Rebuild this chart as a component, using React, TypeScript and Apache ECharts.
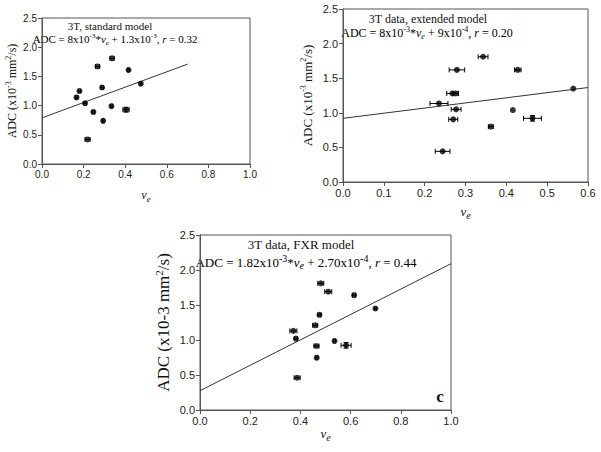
import React, { useEffect, useRef } from "react";
import * as echarts from "echarts";

// Panel a: 3T, standard model
const stdVe = [0.166, 0.18, 0.207, 0.219, 0.247, 0.267, 0.289, 0.294, 0.337, 0.334, 0.416, 0.404, 0.475];
const stdAdc = [1.14, 1.25, 1.04, 0.42, 0.89, 1.67, 1.31, 0.74, 1.81, 0.99, 1.61, 0.93, 1.375];
const stdVeErr = [0.006, 0.006, 0.006, 0.012, 0.006, 0.01, 0.006, 0.004, 0.01, 0.004, 0.004, 0.015, 0.004];
const stdAdcErr = [0, 0, 0, 0, 0, 0, 0, 0, 0, 0, 0, 0.04, 0];
const stdFitX = [0, 0.7];
const stdFitY = [0.79, 1.71];

// Panel b: 3T data, extended model
const extVe = [0.279, 0.268, 0.276, 0.235, 0.277, 0.27, 0.244, 0.343, 0.428, 0.564, 0.416, 0.464, 0.362];
const extAdc = [1.62, 1.28, 1.28, 1.135, 1.05, 0.905, 0.443, 1.81, 1.62, 1.35, 1.04, 0.92, 0.8];
const extVeErr = [0.019, 0.014, 0.007, 0.022, 0.012, 0.011, 0.018, 0.012, 0.008, 0, 0, 0.022, 0.006];
const extAdcErr = [0, 0, 0, 0, 0, 0, 0, 0, 0, 0, 0, 0.04, 0];
const extFitX = [0, 0.6];
const extFitY = [0.92, 1.365];

// Panel c: 3T data, FXR model
const fxrVe = [0.481, 0.511, 0.614, 0.699, 0.476, 0.459, 0.372, 0.382, 0.536, 0.464, 0.582, 0.465, 0.387];
const fxrAdc = [1.81, 1.69, 1.64, 1.45, 1.36, 1.21, 1.13, 1.02, 0.986, 0.914, 0.924, 0.747, 0.461];
const fxrVeErr = [0.012, 0.014, 0.006, 0.004, 0.006, 0.01, 0.014, 0.006, 0.004, 0.01, 0.02, 0.004, 0.012];
const fxrAdcErr = [0, 0, 0, 0, 0, 0, 0, 0, 0, 0, 0.04, 0, 0];
const fxrFitX = [0, 1.0];
const fxrFitY = [0.276, 2.09];

const SERIF = "Liberation Serif";
const SANS = "Liberation Sans";
const AXIS_COLOR = "#555";

function makeRich(fs: number, supFs: number, extra: number) {
  return {
    n: { fontFamily: SERIF, fontSize: fs, color: "#111", lineHeight: fs + extra },
    i: { fontFamily: SERIF, fontSize: fs, fontStyle: "italic", color: "#111", lineHeight: fs + extra },
    sup: { fontFamily: SERIF, fontSize: supFs, color: "#111", verticalAlign: "top", lineHeight: supFs },
    sub: { fontFamily: SERIF, fontSize: supFs, fontStyle: "italic", color: "#111", verticalAlign: "bottom", lineHeight: supFs },
  };
}

function errData(xs: number[], ys: number[], ex: number[], ey: number[]) {
  return xs.map((x, i) => [x, ys[i], ex[i], ey[i]]);
}

function errSeries(idx: number, data: number[][]) {
  return {
    type: "custom",
    xAxisIndex: idx,
    yAxisIndex: idx,
    data,
    encode: { x: 0, y: 1 },
    z: 2,
    renderItem: (params: any, api: any) => {
      const x = api.value(0);
      const y = api.value(1);
      const ex = api.value(2);
      const ey = api.value(3);
      const children: any[] = [];
      const style = { stroke: "#000", lineWidth: 1 };
      const cap = 2.5;
      if (ex > 0) {
        const l = api.coord([x - ex, y]);
        const r = api.coord([x + ex, y]);
        children.push({ type: "line", shape: { x1: l[0], y1: l[1], x2: r[0], y2: r[1] }, style });
        children.push({ type: "line", shape: { x1: l[0], y1: l[1] - cap, x2: l[0], y2: l[1] + cap }, style });
        children.push({ type: "line", shape: { x1: r[0], y1: r[1] - cap, x2: r[0], y2: r[1] + cap }, style });
      }
      if (ey > 0) {
        const t = api.coord([x, y + ey]);
        const b = api.coord([x, y - ey]);
        children.push({ type: "line", shape: { x1: t[0], y1: t[1], x2: b[0], y2: b[1] }, style });
        children.push({ type: "line", shape: { x1: t[0] - cap, y1: t[1], x2: t[0] + cap, y2: t[1] }, style });
        children.push({ type: "line", shape: { x1: b[0] - cap, y1: b[1], x2: b[0] + cap, y2: b[1] }, style });
      }
      return { type: "group", children };
    },
  };
}

function scatterSeries(idx: number, xs: number[], ys: number[]) {
  return {
    type: "scatter",
    xAxisIndex: idx,
    yAxisIndex: idx,
    data: xs.map((x, i) => [x, ys[i]]),
    symbol: "circle",
    symbolSize: 6,
    itemStyle: { color: "#000" },
    z: 3,
  };
}

function fitSeries(idx: number, xs: number[], ys: number[]) {
  return {
    type: "line",
    xAxisIndex: idx,
    yAxisIndex: idx,
    data: xs.map((x, i) => [x, ys[i]]),
    symbol: "none",
    lineStyle: { color: "#333", width: 1 },
    z: 1,
  };
}

function xAxisCfg(idx: number, max: number, interval: number, fs: number, nameFs: number, nameGap: number) {
  return {
    type: "value",
    gridIndex: idx,
    min: 0,
    max,
    interval,
    axisLine: { show: true, onZero: false, lineStyle: { color: AXIS_COLOR, width: 1 } },
    axisTick: { show: true, length: 4, lineStyle: { color: AXIS_COLOR } },
    splitLine: { show: false },
    axisLabel: { fontFamily: SANS, fontSize: fs, color: "#222", margin: 5, formatter: (v: number) => v.toFixed(1) },
    name: "{i|v}{sub|e}",
    nameLocation: "middle",
    nameGap,
    nameTextStyle: { rich: makeRich(nameFs, nameFs - 3, 5) },
  };
}

function yAxisCfg(idx: number, fs: number, name: string, nameFs: number, nameGap: number) {
  return {
    type: "value",
    gridIndex: idx,
    min: 0,
    max: 2.5,
    interval: 0.5,
    axisLine: { show: true, onZero: false, lineStyle: { color: AXIS_COLOR, width: 1 } },
    axisTick: { show: true, length: 4, lineStyle: { color: AXIS_COLOR } },
    splitLine: { show: false },
    axisLabel: { fontFamily: SANS, fontSize: fs, color: "#222", margin: 5, formatter: (v: number) => v.toFixed(1) },
    name,
    nameLocation: "middle",
    nameRotate: 90,
    nameGap,
    nameTextStyle: { rich: makeRich(nameFs, Math.round(nameFs * 0.65), 4) },
  };
}

export default function App() {
  const ref = useRef<HTMLDivElement>(null);
  useEffect(() => {
    if (!ref.current) return;
    const chart = echarts.init(ref.current, null, { renderer: "svg" });
    const gridStyle = { show: true, borderColor: AXIS_COLOR, borderWidth: 1, backgroundColor: "transparent" };
    const option: any = {
      animation: false,
      backgroundColor: "#fff",
      grid: [
        { ...gridStyle, left: 42, top: 18, width: 208, height: 146 },
        { ...gridStyle, left: 343, top: 9, width: 245, height: 173 },
        { ...gridStyle, left: 200, top: 235, width: 251, height: 175 },
      ],
      xAxis: [
        xAxisCfg(0, 1.0, 0.2, 10, 12, 22),
        xAxisCfg(1, 0.6, 0.1, 11, 13, 20),
        xAxisCfg(2, 1.0, 0.2, 11, 13, 14),
      ],
      yAxis: [
        yAxisCfg(0, 10, "{n|ADC (x10}{sup|-3}{n| mm}{sup|2}{n|/s)}", 12, 22),
        yAxisCfg(1, 11, "{n|ADC (x10}{sup|-3}{n| mm}{sup|2}{n|/s)}", 13, 27),
        yAxisCfg(2, 11, "{n|ADC (x10-3 mm}{sup|2}{n|/s)}", 17, 26),
      ],
      series: [
        fitSeries(0, stdFitX, stdFitY),
        errSeries(0, errData(stdVe, stdAdc, stdVeErr, stdAdcErr)),
        scatterSeries(0, stdVe, stdAdc),
        fitSeries(1, extFitX, extFitY),
        errSeries(1, errData(extVe, extAdc, extVeErr, extAdcErr)),
        scatterSeries(1, extVe, extAdc),
        fitSeries(2, fxrFitX, fxrFitY),
        errSeries(2, errData(fxrVe, fxrAdc, fxrVeErr, fxrAdcErr)),
        scatterSeries(2, fxrVe, fxrAdc),
      ],
      graphic: [
        { type: "text", x: 110, y: 26, style: { text: "3T, standard model", fontFamily: SERIF, fontSize: 11, fill: "#111", align: "center", verticalAlign: "middle" } },
        {
          type: "text", x: 115, y: 39,
          style: {
            text: "{n|ADC = 8x10}{sup|-3}{n|*}{i|v}{sub|e}{n| + 1.3x10}{sup|-3}{n|, }{i|r}{n| = 0.32}",
            rich: makeRich(11, 7, 3), align: "center", verticalAlign: "middle",
          },
        },
        { type: "text", x: 428, y: 19, style: { text: "3T data, extended model", fontFamily: SERIF, fontSize: 12, fill: "#111", align: "center", verticalAlign: "middle" } },
        {
          type: "text", x: 427, y: 33,
          style: {
            text: "{n|ADC = 8x10}{sup|-3}{n|*}{i|v}{sub|e}{n| + 9x10}{sup|-4}{n|, }{i|r}{n| = 0.20}",
            rich: makeRich(12, 8, 3), align: "center", verticalAlign: "middle",
          },
        },
        { type: "text", x: 301, y: 244, style: { text: "3T data, FXR model", fontFamily: SERIF, fontSize: 13, fill: "#111", align: "center", verticalAlign: "middle" } },
        {
          type: "text", x: 306, y: 262,
          style: {
            text: "{n|ADC = 1.82x10}{sup|-3}{n|*}{i|v}{sub|e}{n| + 2.70x10}{sup|-4}{n|, }{i|r}{n| = 0.44}",
            rich: makeRich(13, 10, 4), align: "center", verticalAlign: "middle",
          },
        },
        { type: "text", x: 440, y: 396, style: { text: "c", fontFamily: SERIF, fontSize: 17, fontWeight: "bold", fill: "#111", align: "center", verticalAlign: "middle" } },
      ],
    };
    chart.setOption(option);
    return () => chart.dispose();
  }, []);
  return <div ref={ref} style={{ position: "fixed", left: 0, top: 0, width: 601, height: 452 }} />;
}
